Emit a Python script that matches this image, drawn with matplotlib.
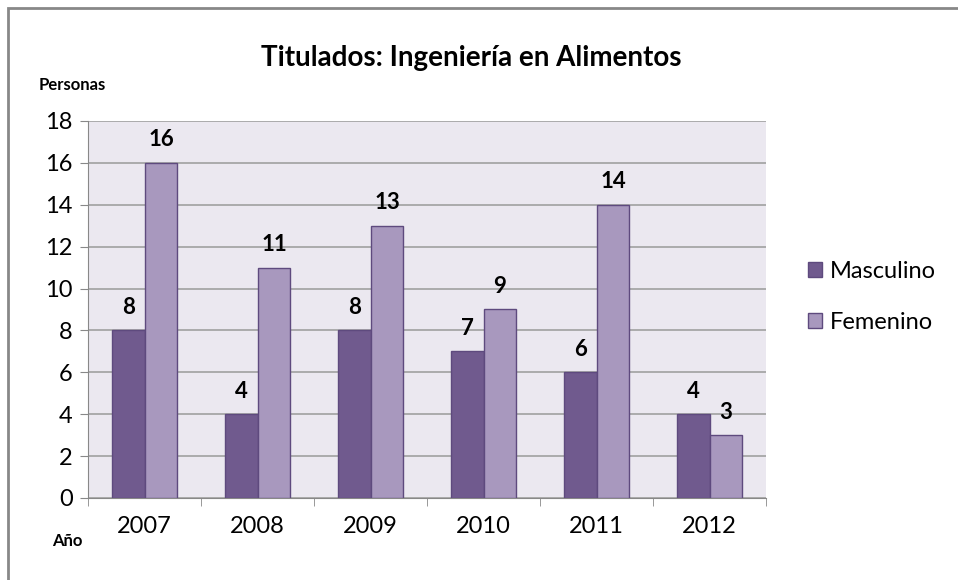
import numpy as np
import matplotlib.pyplot as plt
from matplotlib.patches import Rectangle

# datos
anios = ["2007", "2008", "2009", "2010", "2011", "2012"]
masculino = [8, 4, 8, 7, 6, 4]
femenino = [16, 11, 13, 9, 14, 3]

plt.rcParams['font.family'] = ['Lato', 'DejaVu Sans']

fig = plt.figure(figsize=(9.58, 5.8), dpi=100)
ax = fig.add_axes([0.0919, 0.1414, 0.7077, 0.65])

x = np.arange(len(anios))
w = 0.29
c_masc = "#705A8E"
c_fem = "#A898BE"
edge = "#5E4A7E"

b1 = ax.bar(x - w / 2, masculino, w, color=c_masc, edgecolor=edge, linewidth=1, label="Masculino", zorder=3)
b2 = ax.bar(x + w / 2, femenino, w, color=c_fem, edgecolor=edge, linewidth=1, label="Femenino", zorder=3)

for bars, vals in ((b1, masculino), (b2, femenino)):
    for rect, v in zip(bars, vals):
        ax.annotate(str(v), (rect.get_x() + rect.get_width() / 2, v),
                    xytext=(0, 9), textcoords="offset points",
                    ha="center", va="bottom", fontsize=16, fontweight="bold")

ax.set_facecolor("#EBE8F0")
ax.set_xlim(-0.5, len(anios) - 0.5)
ax.set_ylim(0, 18)
ax.set_yticks(range(0, 19, 2))
ax.yaxis.grid(True, color="#A0A0A0", linewidth=1.2, zorder=0)
ax.set_axisbelow(True)

ax.set_xticks(x)
ax.set_xticklabels(anios)
ax.set_xticks(np.arange(-0.5, len(anios)), minor=True)
ax.tick_params(axis="x", which="major", length=0, pad=13, labelsize=17)
ax.tick_params(axis="x", which="minor", length=6, color="#888888")
ax.tick_params(axis="y", length=6, color="#888888", labelsize=17, pad=5)

for s in ("top", "right"):
    ax.spines[s].set_visible(False)
ax.spines["left"].set_color("#888888")
ax.spines["bottom"].set_color("#888888")

fig.text(0.492, 0.9, "Titulados: Ingeniería en Alimentos", ha="center", va="center",
         fontsize=20, fontweight="bold")
fig.text(0.04, 0.853, "Personas", ha="left", va="center", fontsize=12, fontweight="bold")
fig.text(0.054, 0.068, "Año", ha="left", va="center", fontsize=12, fontweight="bold")

ax.legend(loc="center left", bbox_to_anchor=(1.03, 0.533), frameon=False,
          fontsize=17, handlelength=0.6, handleheight=0.6, labelspacing=1.25,
          handletextpad=0.35)

# marco exterior
fig.patches.append(Rectangle((8 / 958, -0.1), 1.2, 1.1 - 8 / 580, transform=fig.transFigure,
                             fill=False, edgecolor="#888888", linewidth=2))

fig.savefig("out.png", dpi=100)
